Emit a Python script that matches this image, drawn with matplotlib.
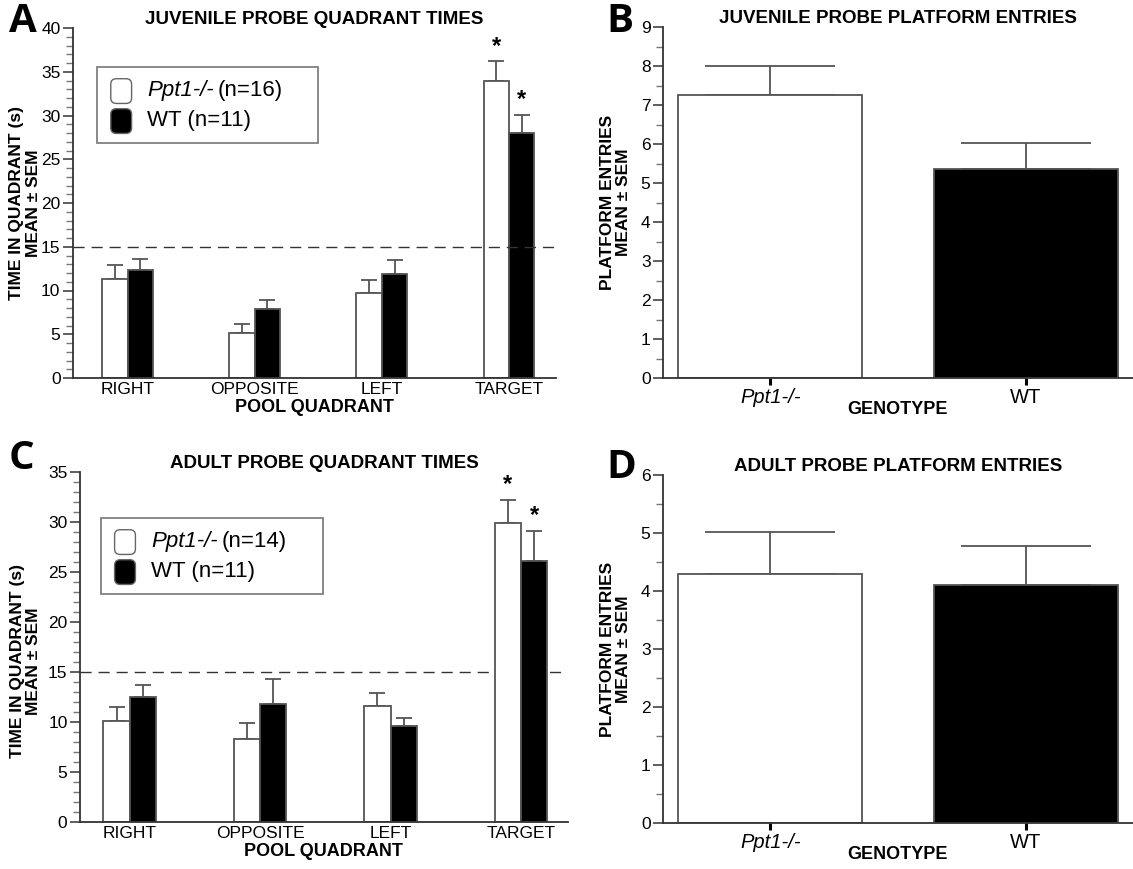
import matplotlib
matplotlib.use("Agg")
import matplotlib.pyplot as plt
import numpy as np
from matplotlib.patches import FancyBboxPatch, Patch
from matplotlib.ticker import MultipleLocator
from matplotlib.legend_handler import HandlerPatch

plt.rcParams['font.family'] = ['Liberation Sans', 'DejaVu Sans']

# ---------------- data ----------------
quadrants = ["RIGHT", "OPPOSITE", "LEFT", "TARGET"]
genotypes = ["Ppt1-/-", "WT"]

juv_ppt1_mean = [11.3, 5.2, 9.7, 33.9]
juv_ppt1_sem = [1.6, 1.0, 1.5, 2.3]
juv_wt_mean = [12.3, 7.9, 11.9, 28.0]
juv_wt_sem = [1.3, 1.0, 1.6, 2.1]
juv_sig = [False, False, False, True]

adu_ppt1_mean = [10.1, 8.3, 11.6, 29.9]
adu_ppt1_sem = [1.4, 1.6, 1.3, 2.3]
adu_wt_mean = [12.5, 11.8, 9.6, 26.1]
adu_wt_sem = [1.2, 2.5, 0.8, 3.0]
adu_sig = [False, False, False, True]

juv_entries_mean = [7.25, 5.37]
juv_entries_sem = [0.75, 0.65]
adu_entries_mean = [4.30, 4.10]
adu_entries_sem = [0.72, 0.68]

juv_legend = ["(n=16)", "(n=11)"]
adu_legend = ["(n=14)", "(n=11)"]

EDGE = "#555555"
ERR = "#555555"
LEGFS = 16

fig = plt.figure(figsize=(11.33, 8.69), dpi=100)
W, H = 1133, 869


class RoundHandler(HandlerPatch):
    def create_artists(self, legend, orig_handle, xdescent, ydescent, width, height, fontsize, trans):
        p = FancyBboxPatch((-xdescent + 1, -ydescent - 4), width - 1, height + 4,
                           boxstyle="round,pad=0,rounding_size=4",
                           facecolor=orig_handle.get_facecolor(),
                           edgecolor="#666666", linewidth=1.0, transform=trans)
        return [p]


def style_axes(ax):
    for s in ["top", "right"]:
        ax.spines[s].set_visible(False)
    for s in ["left", "bottom"]:
        ax.spines[s].set_color("#333333")
        ax.spines[s].set_linewidth(1.3)
    ax.tick_params(axis="y", which="major", length=7, width=1.1, color="#333333",
                   labelsize=12.5, pad=2)
    ax.tick_params(axis="y", which="minor", length=5, width=1.0, color="#777777")


def quadrant_panel(ax, p_mean, p_sem, w_mean, w_sem, sig, ymax, title, leg_n, xlim,
                   leg_box, dash_z, ylab_xy):
    x = np.arange(len(quadrants))
    w = 0.2
    ax.axhline(15, color="#333333", lw=1.0, dashes=(8, 5), zorder=dash_z)
    ax.bar(x - w / 2, p_mean, w, color="white", edgecolor=EDGE, linewidth=1.3, zorder=2)
    ax.bar(x + w / 2, w_mean, w, color="black", edgecolor=EDGE, linewidth=1.3, zorder=2.5)
    ax.errorbar(x - w / 2, p_mean, yerr=[np.zeros(len(x)), p_sem], fmt="none",
                ecolor=ERR, elinewidth=1.3, capsize=6, capthick=1.3, zorder=1.5)
    ax.errorbar(x + w / 2, w_mean, yerr=[np.zeros(len(x)), w_sem], fmt="none",
                ecolor=ERR, elinewidth=1.3, capsize=6, capthick=1.3, zorder=1.5)
    for i, s in enumerate(sig):
        if s:
            ax.text(x[i] - w / 2, p_mean[i] + p_sem[i] + 0.4, "*", ha="center", va="bottom",
                    fontsize=17, fontweight="bold")
            ax.text(x[i] + w / 2, w_mean[i] + w_sem[i] + 0.4, "*", ha="center", va="bottom",
                    fontsize=17, fontweight="bold")
    ax.set_ylim(0, ymax)
    ax.set_xlim(*xlim)
    ax.yaxis.set_major_locator(MultipleLocator(5))
    ax.yaxis.set_minor_locator(MultipleLocator(1))
    ax.set_xticks(x)
    ax.set_xticklabels(quadrants, fontsize=12.5)
    ax.tick_params(axis="x", length=0, pad=3)
    style_axes(ax)
    ax.set_title(title, fontsize=13.5, fontweight="bold", pad=3)
    ax.set_xlabel("POOL QUADRANT", fontsize=13, fontweight="bold", labelpad=1)
    ax.set_ylabel("TIME IN QUADRANT (s)\nMEAN ± SEM", fontsize=12.5, fontweight="bold",
                  linespacing=1.1)
    ax.yaxis.set_label_coords(*ylab_xy)
    handles = [Patch(facecolor="white"), Patch(facecolor="black")]
    labels = ["Ppt1-/- " + leg_n[0], "WT " + leg_n[1]]
    leg = ax.legend(handles, labels, loc="upper left", bbox_to_anchor=leg_box, mode="expand",
                    handler_map={Patch: RoundHandler()}, fontsize=LEGFS, frameon=True,
                    fancybox=False, edgecolor="#555555", handlelength=1.0, handleheight=0.95,
                    handletextpad=0.7, borderpad=0.55, labelspacing=0.35,
                    borderaxespad=0)
    leg.get_frame().set_linewidth(1.2)
    t0 = leg.get_texts()[0]
    t0.set_text("")
    return leg


def entries_panel(ax, mean, sem, ymax, title):
    x = np.arange(len(genotypes))
    w = 0.72
    ax.bar(x, mean, w, color=["white", "black"], edgecolor=EDGE, linewidth=1.3, zorder=2)
    ax.errorbar(x, mean, yerr=[np.zeros(len(x)), sem], fmt="none", ecolor=ERR,
                elinewidth=1.3, capsize=47, capthick=1.3, zorder=1.5)
    ax.set_ylim(0, ymax)
    ax.set_xlim(-0.42, 1.42)
    ax.yaxis.set_major_locator(MultipleLocator(1))
    ax.yaxis.set_minor_locator(MultipleLocator(0.5))
    ax.set_xticks(x)
    ax.set_xticklabels(genotypes, fontsize=14.5)
    ax.get_xticklabels()[0].set_style("italic")
    ax.tick_params(axis="x", length=5, width=2.2, color="black", pad=2, direction="out")
    style_axes(ax)
    ax.set_title(title, fontsize=13.5, fontweight="bold", pad=3)
    ax.set_xlabel("GENOTYPE", fontsize=13, fontweight="bold", labelpad=-4)
    ax.set_ylabel("PLATFORM ENTRIES\nMEAN ± SEM", fontsize=12.5, fontweight="bold",
                  linespacing=1.1)
    ax.yaxis.set_label_coords(-0.068, 0.5)


def frac_axes(l, t, r, b):
    return fig.add_axes([l / W, 1 - b / H, (r - l) / W, (b - t) / H])


axA = frac_axes(73, 28, 556, 378)
axB = frac_axes(663, 27, 1133, 378)
axC = frac_axes(80, 472, 568, 822)
axD = frac_axes(663, 475, 1133, 823)

legA = quadrant_panel(axA, juv_ppt1_mean, juv_ppt1_sem, juv_wt_mean, juv_wt_sem, juv_sig, 40,
                      "JUVENILE PROBE QUADRANT TIMES", juv_legend, (-0.43, 3.37),
                      (0.05, 0.7, 0.458, 0.19), 3, (-0.067, 0.5))
legC = quadrant_panel(axC, adu_ppt1_mean, adu_ppt1_sem, adu_wt_mean, adu_wt_sem, adu_sig, 35,
                      "ADULT PROBE QUADRANT TIMES", adu_legend, (-0.38, 3.36),
                      (0.043, 0.65, 0.455, 0.22), 1, (-0.079, 0.46))
entries_panel(axB, juv_entries_mean, juv_entries_sem, 9, "JUVENILE PROBE PLATFORM ENTRIES")
entries_panel(axD, adu_entries_mean, adu_entries_sem, 6, "ADULT PROBE PLATFORM ENTRIES")

# mixed-style first legend labels (italic gene name + upright n)
fig.canvas.draw()
renderer = fig.canvas.get_renderer()
for leg, n in [(legA, juv_legend[0]), (legC, adu_legend[0])]:
    wt_text = leg.get_texts()[1]
    bb_wt = wt_text.get_window_extent(renderer)
    hp = sorted(leg.findobj(FancyBboxPatch), key=lambda p: -p.get_window_extent(renderer).y0)
    dy = hp[0].get_window_extent(renderer).y0 - hp[1].get_window_extent(renderer).y0
    xpix = bb_wt.x0
    ypix = bb_wt.y0 + dy
    a = fig.text(xpix / fig.bbox.width, ypix / fig.bbox.height, "Ppt1-/-", fontsize=LEGFS,
                 style="italic", va="bottom", ha="left", zorder=10)
    bba = a.get_window_extent(renderer)
    fig.text((bba.x1 + 4) / fig.bbox.width, ypix / fig.bbox.height, n, fontsize=LEGFS,
             va="bottom", ha="left", zorder=10)

# panel letters
for letter, (px, py) in {"A": (9, 2), "B": (606, 2), "C": (9, 439), "D": (606, 448)}.items():
    fig.text(px / W, 1 - py / H, letter, fontsize=29, fontweight="bold",
             family=["Open Sans", "DejaVu Sans"], va="top", ha="left")

fig.savefig("out.png", dpi=100)
